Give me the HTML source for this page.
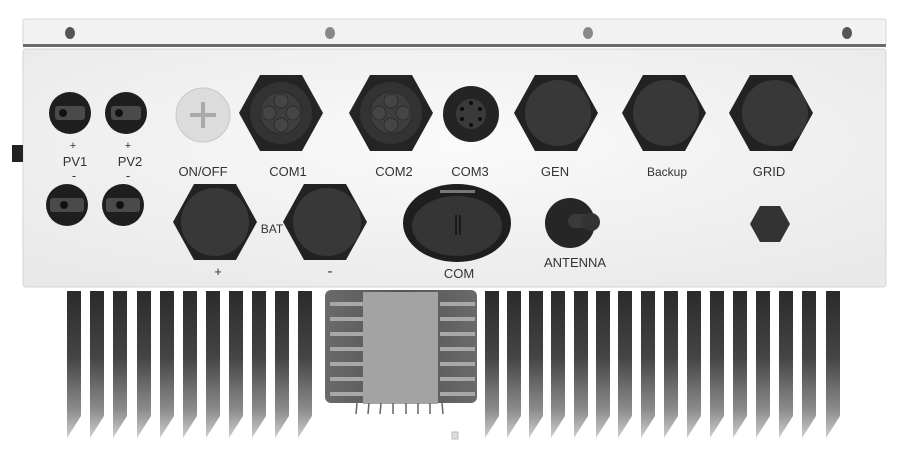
<!DOCTYPE html>
<html><head><meta charset="utf-8"><style>
html,body{margin:0;padding:0;background:#fff;width:909px;height:465px;overflow:hidden}
text{font-family:"Liberation Sans",sans-serif;fill:#333}
</style></head><body>
<svg width="909" height="465" viewBox="0 0 909 465" xmlns="http://www.w3.org/2000/svg">
<defs>
<linearGradient id="fin" x1="0" y1="0" x2="0" y2="1">
<stop offset="0" stop-color="#2b2b2b"/><stop offset="0.45" stop-color="#444"/><stop offset="0.8" stop-color="#8a8a8a"/><stop offset="1" stop-color="#cfcfcf"/></linearGradient>
<linearGradient id="blk" x1="0" y1="0" x2="1" y2="0">
<stop offset="0" stop-color="#6a6a6a"/><stop offset="0.5" stop-color="#555"/><stop offset="1" stop-color="#6a6a6a"/></linearGradient>
<radialGradient id="panel" cx="0.5" cy="0.4" r="0.7"><stop offset="0" stop-color="#fafafa"/><stop offset="1" stop-color="#e9e9e9"/></radialGradient>
<polygon id="hex" points="-42,0 -21,-38 21,-38 42,0 21,38 -21,38"/>
<polygon id="fin1" points="0,0 14,0 14,125 0,147"/>
</defs>

<g fill="url(#fin)">
<use href="#fin1" x="67" y="291"/><use href="#fin1" x="90" y="291"/><use href="#fin1" x="113" y="291"/><use href="#fin1" x="137" y="291"/><use href="#fin1" x="160" y="291"/><use href="#fin1" x="183" y="291"/><use href="#fin1" x="206" y="291"/><use href="#fin1" x="229" y="291"/><use href="#fin1" x="252" y="291"/><use href="#fin1" x="275" y="291"/><use href="#fin1" x="298" y="291"/>
<use href="#fin1" x="485" y="291"/><use href="#fin1" x="507" y="291"/><use href="#fin1" x="529" y="291"/><use href="#fin1" x="551" y="291"/><use href="#fin1" x="574" y="291"/><use href="#fin1" x="596" y="291"/><use href="#fin1" x="618" y="291"/><use href="#fin1" x="641" y="291"/><use href="#fin1" x="664" y="291"/><use href="#fin1" x="687" y="291"/><use href="#fin1" x="710" y="291"/><use href="#fin1" x="733" y="291"/><use href="#fin1" x="756" y="291"/><use href="#fin1" x="779" y="291"/><use href="#fin1" x="802" y="291"/><use href="#fin1" x="826" y="291"/>
</g>
<rect x="325" y="290" width="152" height="113" rx="6" fill="url(#blk)"/>
<g fill="#a8a8a8">
<rect x="330" y="302" width="35" height="4"/><rect x="330" y="317" width="35" height="4"/><rect x="330" y="332" width="35" height="4"/><rect x="330" y="347" width="35" height="4"/><rect x="330" y="362" width="35" height="4"/><rect x="330" y="377" width="35" height="4"/><rect x="330" y="392" width="35" height="4"/>
<rect x="440" y="302" width="35" height="4"/><rect x="440" y="317" width="35" height="4"/><rect x="440" y="332" width="35" height="4"/><rect x="440" y="347" width="35" height="4"/><rect x="440" y="362" width="35" height="4"/><rect x="440" y="377" width="35" height="4"/><rect x="440" y="392" width="35" height="4"/>
</g>
<rect x="363" y="292" width="75" height="112" fill="#a3a3a3"/>
<g stroke="#666" stroke-width="1.5">
<line x1="357" y1="403" x2="356" y2="414"/><line x1="369" y1="403" x2="368" y2="414"/><line x1="381" y1="403" x2="380" y2="414"/><line x1="393" y1="403" x2="393" y2="414"/><line x1="406" y1="403" x2="406" y2="414"/><line x1="418" y1="403" x2="418" y2="414"/><line x1="430" y1="403" x2="430" y2="414"/><line x1="442" y1="403" x2="443" y2="414"/></g>
<rect x="452" y="432" width="6" height="7" fill="#ddd" stroke="#bbb"/>

<rect x="23" y="19" width="863" height="27" rx="2" fill="#f2f2f2" stroke="#d8d8d8"/>
<rect x="23" y="44" width="863" height="3" fill="#6a6a6a"/>
<g fill="#555"><ellipse cx="70" cy="33" rx="5" ry="6"/><ellipse cx="330" cy="33" rx="5" ry="6" fill="#888"/><ellipse cx="588" cy="33" rx="5" ry="6" fill="#888"/><ellipse cx="847" cy="33" rx="5" ry="6"/></g>
<rect x="23" y="49" width="863" height="238" rx="3" fill="url(#panel)" stroke="#d5d5d5"/>
<rect x="12" y="145" width="11" height="17" fill="#222"/>

<g fill="#1e1e1e">
<circle cx="70" cy="113" r="21"/><circle cx="126" cy="113" r="21"/>
<circle cx="67" cy="205" r="21"/><circle cx="123" cy="205" r="21"/></g>
<g fill="#4a4a4a"><rect x="55" y="106" width="30" height="14" rx="3"/><rect x="111" y="106" width="30" height="14" rx="3"/><rect x="50" y="198" width="34" height="14" rx="3"/><rect x="106" y="198" width="34" height="14" rx="3"/></g>
<g fill="#111"><circle cx="63" cy="113" r="4"/><circle cx="119" cy="113" r="4"/><circle cx="64" cy="205" r="4"/><circle cx="120" cy="205" r="4"/></g>

<circle cx="203" cy="115" r="27" fill="#dcdcdc" stroke="#c8c8c8"/>
<rect x="190" y="113" width="26" height="4" fill="#aaa"/><rect x="201" y="102" width="4" height="26" fill="#aaa"/>

<g fill="#242424"><use href="#hex" x="281" y="113"/><use href="#hex" x="391" y="113"/></g>
<circle cx="281" cy="113" r="31" fill="#333"/><circle cx="391" cy="113" r="31" fill="#333"/>
<g fill="#3e3e3e" stroke="#2a2a2a"><circle cx="281" cy="113" r="21"/><circle cx="391" cy="113" r="21"/></g>
<g fill="#454545" stroke="#2c2c2c"><circle cx="281" cy="101" r="7"/><circle cx="281" cy="125" r="7"/><circle cx="269" cy="113" r="7"/><circle cx="293" cy="113" r="7"/>
<circle cx="391" cy="101" r="7"/><circle cx="391" cy="125" r="7"/><circle cx="379" cy="113" r="7"/><circle cx="403" cy="113" r="7"/></g>
<circle cx="471" cy="114" r="28" fill="#242424"/><circle cx="471" cy="114" r="15" fill="#3a3a3a"/>
<g fill="#0c0c0c"><circle cx="471" cy="103" r="2"/><circle cx="471" cy="125" r="2"/><circle cx="462" cy="109" r="2"/><circle cx="480" cy="109" r="2"/><circle cx="462" cy="119" r="2"/><circle cx="480" cy="119" r="2"/></g>
<g fill="#222"><use href="#hex" x="556" y="113"/><use href="#hex" x="664" y="113"/><use href="#hex" x="771" y="113"/></g>
<g fill="#383838"><circle cx="558" cy="113" r="33"/><circle cx="666" cy="113" r="33"/><circle cx="775" cy="113" r="33"/></g>

<g fill="#222"><use href="#hex" x="215" y="222"/><use href="#hex" x="325" y="222"/></g>
<g fill="#383838"><circle cx="215" cy="222" r="34"/><circle cx="327" cy="222" r="34"/></g>
<ellipse cx="457" cy="223" rx="54" ry="39" fill="#1e1e1e"/>
<ellipse cx="457" cy="226" rx="45" ry="30" fill="#353535"/>
<rect x="440" y="190" width="35" height="3" fill="#777"/>
<line x1="456" y1="215" x2="456" y2="235" stroke="#111" stroke-width="1.5"/><line x1="460" y1="215" x2="460" y2="235" stroke="#111" stroke-width="1.5"/>
<circle cx="570" cy="223" r="25" fill="#262626"/>
<rect x="568" y="214" width="30" height="14" rx="7" fill="#3a3a3a"/><circle cx="591" cy="222" r="9" fill="#333"/>
<polygon points="750,224 760,206 780,206 790,224 780,242 760,242" fill="#333"/>

<g font-size="13" text-anchor="middle">
<text x="73" y="149" font-size="11">+</text><text x="128" y="149" font-size="11">+</text>
<text x="75" y="166">PV1</text><text x="130" y="166">PV2</text>
<text x="74" y="180" font-size="13">-</text><text x="128" y="180" font-size="13">-</text>
<text x="203" y="176">ON/OFF</text>
<text x="288" y="176">COM1</text><text x="394" y="176">COM2</text><text x="470" y="176">COM3</text>
<text x="555" y="176">GEN</text><text x="667" y="176" font-size="12">Backup</text><text x="769" y="176">GRID</text>
<text x="272" y="233" font-size="12">BAT</text>
<text x="218" y="276">+</text><text x="330" y="276" font-size="15">-</text>
<text x="459" y="278">COM</text>
<text x="575" y="267">ANTENNA</text>
</g>
</svg>
</body></html>
